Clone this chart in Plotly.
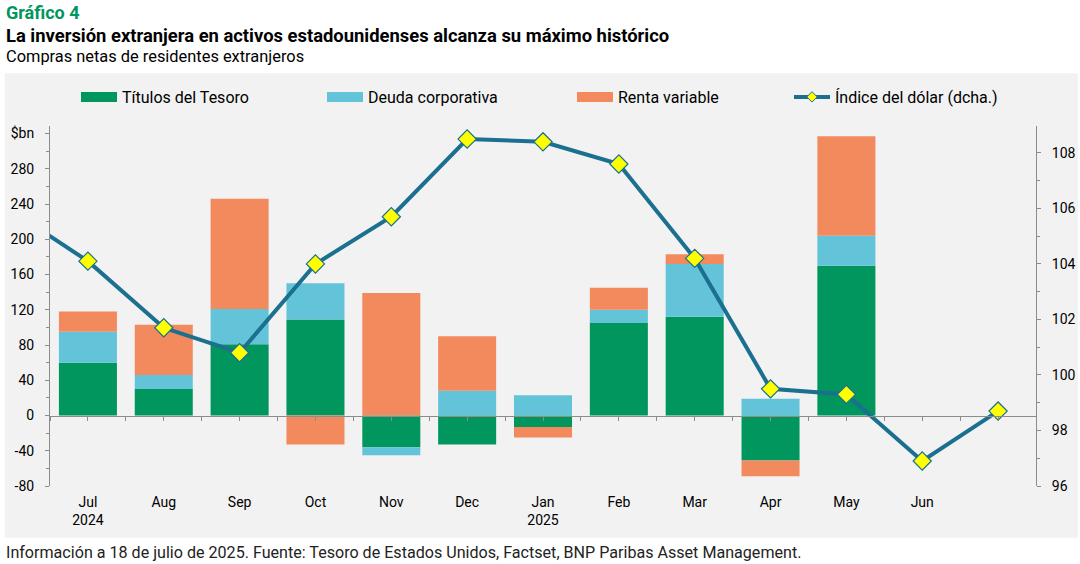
import plotly.graph_objects as go

# ---------------- data ----------------
months = ["Jul 2024", "Aug 2024", "Sep 2024", "Oct 2024", "Nov 2024", "Dec 2024",
          "Jan 2025", "Feb 2025", "Mar 2025", "Apr 2025", "May 2025", "Jun 2025", "Jul 2025"]
tick_labels = ["Jul<br>2024", "Aug", "Sep", "Oct", "Nov", "Dec",
               "Jan<br>2025", "Feb", "Mar", "Apr", "May", "Jun", ""]

treasury = [60, 30, 81, 109, -36, -33, -13, 105, 112, -51, 170, None, None]
corporate = [35, 16, 40, 41, -9, 28, 23, 15, 60, 19, 34, None, None]
equity = [23, 57, 125, -33, 139, 62, -12, 25, 11, -18, 113, None, None]

# dollar index: month-end values, starting with Jun 2024 (just left of the chart)
dollar_months = ["Jun 2024"] + months
dollar_index = [105.9, 104.1, 101.7, 100.8, 104.0, 105.7, 108.5, 108.4, 107.6,
                104.2, 99.5, 99.3, 96.9, 98.7]

y_left_ticks = [-80, -40, 0, 40, 80, 120, 160, 200, 240, 280, 320]
y_left_text = ["-80", "-40", "0", "40", "80", "120", "160", "200", "240", "280", "$bn"]
y_right_ticks = [96, 98, 100, 102, 104, 106, 108]

# ---------------- styling ----------------
GREEN = "#00965E"
LBLUE = "#62C3D9"
ORANGE = "#F28A5E"
LINE = "#1B6F8F"
YELLOW = "#FFFF00"
AXIS = "#8C8C8C"
FONT = "Roboto"

W, H = 1080, 564
ML, MR, MT, MB = 50, 44, 126, 78
PW, PH = W - ML - MR, H - MT - MB


def px_x(px):
    return (px - ML) / PW


def px_y(py):
    return (H - MB - py) / PH


x_idx = list(range(len(months)))
x_dollar = [i - 1 for i in range(len(dollar_months))]

Y_RANGE = [-80, 328.6]
Y2_RANGE = [96, 108.97]
X_RANGE = [-0.5, len(months) - 0.5]

fig = go.Figure()

fig.add_trace(go.Bar(x=x_idx, y=treasury, name="Títulos del Tesoro", marker_color=GREEN,
                     marker_line_width=0, showlegend=False, legendgroup="t"))
fig.add_trace(go.Bar(x=x_idx, y=corporate, name="Deuda corporativa", marker_color=LBLUE,
                     marker_line_width=0, showlegend=False, legendgroup="c"))
fig.add_trace(go.Bar(x=x_idx, y=equity, name="Renta variable", marker_color=ORANGE,
                     marker_line_width=0, showlegend=False, legendgroup="e"))

fig.add_trace(go.Scatter(x=x_dollar, y=dollar_index, name="Índice del dólar (dcha.)",
                         yaxis="y2", mode="lines+markers",
                         line=dict(color=LINE, width=4),
                         marker=dict(symbol="diamond", size=14, color=YELLOW,
                                     line=dict(color=LINE, width=1.2)),
                         showlegend=False, legendgroup="d"))

# legend-only entries (wide swatches like the original)
legend_items = [("Títulos del Tesoro", GREEN, "t", "legend"),
                ("Deuda corporativa", LBLUE, "c", "legend2"),
                ("Renta variable", ORANGE, "e", "legend3")]
for name, col, grp, lg in legend_items:
    fig.add_trace(go.Scatter(x=[None], y=[None], xaxis="x2", mode="lines", name=name,
                             line=dict(color=col, width=10), legendgroup=grp, legend=lg))
fig.add_trace(go.Scatter(x=[None], y=[None], xaxis="x2", mode="lines+markers",
                         name="Índice del dólar (dcha.)",
                         line=dict(color=LINE, width=4),
                         marker=dict(symbol="diamond", size=8, color=YELLOW,
                                     line=dict(color=LINE, width=1)),
                         legendgroup="d", legend="legend4"))

leg_common = dict(orientation="h", yanchor="middle", y=px_y(97), xanchor="left",
                  bgcolor="rgba(0,0,0,0)", itemwidth=36,
                  font=dict(family=FONT, size=16, color="#000000"))

zero_pos = (0 - Y_RANGE[0]) / (Y_RANGE[1] - Y_RANGE[0])

fig.update_layout(
    width=W, height=H,
    margin=dict(l=ML, r=MR, t=MT, b=MB, pad=0, autoexpand=False),
    paper_bgcolor="white", plot_bgcolor="rgba(0,0,0,0)",
    barmode="relative", bargap=0.235,
    font=dict(family=FONT, size=14, color="#000000"),
    legend=dict(leg_common, x=px_x(76)),
    legend2=dict(leg_common, x=px_x(322)),
    legend3=dict(leg_common, x=px_x(572)),
    legend4=dict(leg_common, x=px_x(789)),
    xaxis=dict(range=X_RANGE, tickmode="array", tickvals=x_idx, ticktext=tick_labels,
               showline=False, showgrid=False, zeroline=False,
               ticks="outside", ticklen=2, tickcolor="rgba(0,0,0,0)",
               ticklabelstandoff=1,
               tickfont=dict(family=FONT, size=14, color="#000000")),
    xaxis2=dict(range=X_RANGE, overlaying="x", anchor="free", position=zero_pos,
                tickmode="array", tickvals=[i - 0.5 for i in range(len(months) + 1)] + x_idx,
                showticklabels=False, showline=True, linecolor=AXIS, linewidth=1,
                ticks="outside", ticklen=4, tickcolor=AXIS, tickwidth=1,
                showgrid=False, zeroline=False),
    yaxis=dict(range=Y_RANGE, tickmode="array", tickvals=y_left_ticks, ticktext=y_left_text,
               showline=True, linecolor=AXIS, linewidth=1, ticks="outside", ticklen=4,
               tickcolor=AXIS, showgrid=False, zeroline=False, ticklabelstandoff=8,
               minor=dict(tickvals=[v + 20 for v in y_left_ticks[:-1]], ticks="outside",
                          ticklen=3, tickcolor=AXIS),
               tickfont=dict(family=FONT, size=14, color="#000000")),
    yaxis2=dict(range=Y2_RANGE, overlaying="y", side="right", tickmode="array",
                tickvals=y_right_ticks, showline=True, linecolor=AXIS, linewidth=1,
                ticks="outside", ticklen=4, tickcolor=AXIS, showgrid=False, zeroline=False,
                ticklabelstandoff=8,
                minor=dict(tickvals=[v + 1 for v in y_right_ticks], ticks="outside",
                           ticklen=3, tickcolor=AXIS),
                tickfont=dict(family=FONT, size=14, color="#000000")),
    shapes=[dict(type="rect", xref="paper", yref="paper", layer="below",
                 x0=px_x(4.7), x1=px_x(1078), y0=px_y(537.7), y1=px_y(73.3),
                 fillcolor="#F2F2F2", line=dict(width=0))],
    annotations=[
        dict(text="<b>Gráfico 4</b>", xref="paper", yref="paper", x=px_x(4), y=px_y(12),
             xanchor="left", yanchor="middle", showarrow=False,
             font=dict(family=FONT, size=18, color=GREEN)),
        dict(text="<b>La inversión extranjera en activos estadounidenses alcanza su máximo histórico</b>",
             xref="paper", yref="paper", x=px_x(4), y=px_y(35), xanchor="left",
             yanchor="middle", showarrow=False,
             font=dict(family=FONT, size=18.4, color="#000000")),
        dict(text="Compras netas de residentes extranjeros", xref="paper", yref="paper",
             x=px_x(4), y=px_y(56), xanchor="left", yanchor="middle", showarrow=False,
             font=dict(family=FONT, size=16.4, color="#000000")),
        dict(text="Información a 18 de julio de 2025. Fuente: Tesoro de Estados Unidos, Factset, BNP Paribas Asset Management.",
             xref="paper", yref="paper", x=px_x(4), y=px_y(552), xanchor="left",
             yanchor="middle", showarrow=False,
             font=dict(family=FONT, size=16.1, color="#222222")),
    ],
)

fig.write_html("out.html", config={"displayModeBar": False},
               post_script="document.body.style.margin='0';")
